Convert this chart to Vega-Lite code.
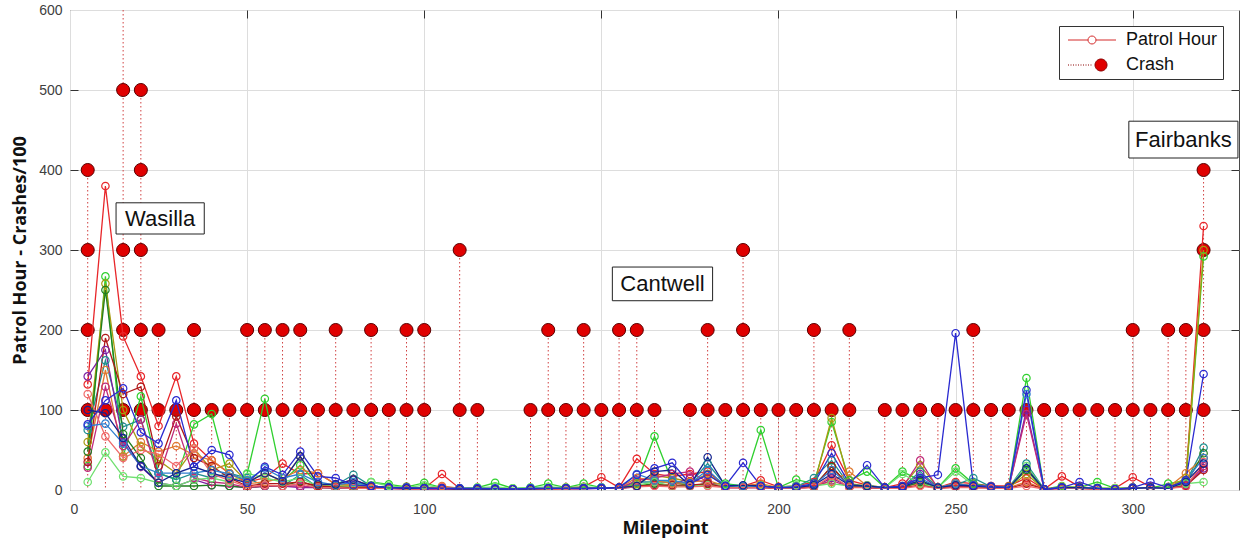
{
  "$schema": "https://vega.github.io/schema/vega-lite/v6.json",
  "width": 1169,
  "height": 480,
  "autosize": {"type": "none"},
  "padding": {"left": 70, "top": 10, "right": 4, "bottom": 52},
  "background": "white",
  "config": {
    "view": {"stroke": "#4a4a4a", "strokeWidth": 1},
    "axis": {
      "labelFont": "Liberation Sans",
      "labelFontSize": 14,
      "labelColor": "#404040",
      "titleFont": "Open Sans",
      "titleFontWeight": "bold",
      "titleFontSize": 18,
      "titleColor": "#111111",
      "gridColor": "#dddddd",
      "gridWidth": 1,
      "domain": false,
      "tickColor": "#333333",
      "tickSize": 8,
      "tickWidth": 1
    },
    "legend": {
      "orient": "top-right",
      "offset": 16,
      "padding": 5,
      "strokeColor": "#333333",
      "fillColor": "white",
      "labelFont": "Liberation Sans",
      "labelFontSize": 18,
      "labelColor": "#111111",
      "symbolSize": 100,
      "symbolStrokeWidth": 1,
      "rowPadding": 7,
      "labelOffset": 44
    }
  },
  "datasets": {
    "patrol": [
      {"m":5,"a":132,"b":30,"c":82,"d":60,"e":75,"f":142,"g":40,"h":48,"i":100,"j":28,"k":10,"l":80,"m2":35,"n":120},
      {"m":10,"a":380,"b":267,"c":112,"d":258,"e":162,"f":175,"g":150,"h":250,"i":96,"j":129,"k":47,"l":83,"m2":190,"n":67},
      {"m":15,"a":192,"b":42,"c":127,"d":100,"e":79,"f":60,"g":42,"h":70,"i":65,"j":55,"k":17,"l":58,"m2":120,"n":40},
      {"m":20,"a":142,"b":117,"c":72,"d":54,"e":88,"f":29,"g":60,"h":40,"i":30,"j":88,"k":15,"l":30,"m2":129,"n":50},
      {"m":25,"a":80,"b":21,"c":58,"d":37,"e":21,"f":9,"g":48,"h":5,"i":9,"j":15,"k":9,"l":21,"m2":30,"n":45},
      {"m":30,"a":142,"b":13,"c":112,"d":21,"e":13,"f":5,"g":55,"h":5,"i":21,"j":83,"k":5,"l":21,"m2":92,"n":30},
      {"m":35,"a":58,"b":82,"c":29,"d":52,"e":21,"f":13,"g":44,"h":5,"i":29,"j":15,"k":13,"l":21,"m2":40,"n":52},
      {"m":40,"a":37,"b":95,"c":50,"d":25,"e":15,"f":6,"g":37,"h":6,"i":21,"j":10,"k":15,"l":25,"m2":30,"n":20},
      {"m":45,"a":21,"b":10,"c":44,"d":33,"e":21,"f":5,"g":21,"h":5,"i":15,"j":8,"k":10,"l":20,"m2":15,"n":12},
      {"m":50,"a":10,"b":20,"c":9,"d":10,"e":15,"f":3,"g":8,"h":3,"i":9,"j":3,"k":21,"l":12,"m2":5,"n":4},
      {"m":55,"a":15,"b":114,"c":29,"d":21,"e":5,"f":5,"g":10,"h":5,"i":21,"j":5,"k":15,"l":27,"m2":8,"n":6},
      {"m":60,"a":33,"b":11,"c":19,"d":11,"e":5,"f":5,"g":15,"h":5,"i":11,"j":5,"k":10,"l":15,"m2":8,"n":5},
      {"m":65,"a":20,"b":31,"c":48,"d":42,"e":19,"f":3,"g":25,"h":11,"i":42,"j":5,"k":15,"l":20,"m2":10,"n":8},
      {"m":70,"a":21,"b":7,"c":17,"d":7,"e":3,"f":3,"g":21,"h":3,"i":7,"j":3,"k":5,"l":10,"m2":5,"n":3},
      {"m":75,"a":7,"b":7,"c":15,"d":5,"e":6,"f":2,"g":7,"h":3,"i":7,"j":3,"k":5,"l":6,"m2":4,"n":3},
      {"m":80,"a":13,"b":6,"c":6,"d":5,"e":19,"f":2,"g":6,"h":3,"i":13,"j":3,"k":4,"l":10,"m2":3,"n":2},
      {"m":85,"a":5,"b":10,"c":5,"d":4,"e":5,"f":2,"g":4,"h":3,"i":5,"j":2,"k":10,"l":5,"m2":3,"n":2},
      {"m":90,"a":3,"b":7,"c":3,"d":3,"e":3,"f":2,"g":3,"h":2,"i":3,"j":2,"k":5,"l":3,"m2":2,"n":2},
      {"m":95,"a":4,"b":4,"c":3,"d":3,"e":3,"f":1,"g":3,"h":2,"i":2,"j":1,"k":3,"l":3,"m2":2,"n":1},
      {"m":100,"a":2,"b":9,"c":2,"d":2,"e":2,"f":1,"g":2,"h":2,"i":2,"j":1,"k":6,"l":2,"m2":2,"n":1},
      {"m":105,"a":20,"b":3,"c":2,"d":3,"e":2,"f":1,"g":5,"h":2,"i":2,"j":1,"k":3,"l":2,"m2":3,"n":4},
      {"m":110,"a":2,"b":2,"c":2,"d":1,"e":2,"f":1,"g":2,"h":1,"i":1,"j":1,"k":2,"l":2,"m2":1,"n":1},
      {"m":115,"a":2,"b":3,"c":2,"d":1,"e":2,"f":1,"g":2,"h":1,"i":1,"j":1,"k":3,"l":2,"m2":1,"n":1},
      {"m":120,"a":1,"b":9,"c":2,"d":1,"e":1,"f":1,"g":1,"h":1,"i":1,"j":1,"k":4,"l":1,"m2":1,"n":1},
      {"m":125,"a":1,"b":2,"c":1,"d":1,"e":1,"f":1,"g":1,"h":1,"i":1,"j":1,"k":2,"l":1,"m2":1,"n":1},
      {"m":130,"a":2,"b":3,"c":2,"d":1,"e":2,"f":1,"g":2,"h":1,"i":1,"j":1,"k":3,"l":2,"m2":1,"n":1},
      {"m":135,"a":2,"b":8,"c":2,"d":2,"e":2,"f":1,"g":2,"h":1,"i":2,"j":1,"k":4,"l":2,"m2":1,"n":1},
      {"m":140,"a":3,"b":3,"c":2,"d":2,"e":2,"f":1,"g":2,"h":2,"i":2,"j":2,"k":3,"l":2,"m2":2,"n":1},
      {"m":145,"a":4,"b":8,"c":2,"d":2,"e":2,"f":1,"g":3,"h":2,"i":2,"j":2,"k":4,"l":2,"m2":2,"n":2},
      {"m":150,"a":16,"b":3,"c":2,"d":2,"e":3,"f":2,"g":3,"h":2,"i":2,"j":2,"k":3,"l":3,"m2":2,"n":2},
      {"m":155,"a":3,"b":2,"c":3,"d":2,"e":3,"f":2,"g":3,"h":2,"i":3,"j":2,"k":2,"l":3,"m2":2,"n":2},
      {"m":160,"a":39,"b":8,"c":19,"d":8,"e":10,"f":4,"g":15,"h":5,"i":5,"j":12,"k":6,"l":20,"m2":5,"n":4},
      {"m":165,"a":20,"b":67,"c":27,"d":18,"e":10,"f":6,"g":12,"h":8,"i":23,"j":15,"k":10,"l":12,"m2":6,"n":5},
      {"m":170,"a":17,"b":10,"c":34,"d":15,"e":10,"f":6,"g":8,"h":5,"i":25,"j":20,"k":5,"l":12,"m2":6,"n":4},
      {"m":175,"a":20,"b":5,"c":8,"d":10,"e":8,"f":15,"g":10,"h":5,"i":6,"j":23,"k":5,"l":8,"m2":6,"n":4},
      {"m":180,"a":23,"b":8,"c":19,"d":20,"e":33,"f":8,"g":12,"h":8,"i":41,"j":10,"k":6,"l":25,"m2":8,"n":5},
      {"m":185,"a":5,"b":8,"c":5,"d":5,"e":6,"f":3,"g":5,"h":4,"i":5,"j":3,"k":6,"l":5,"m2":3,"n":3},
      {"m":190,"a":5,"b":5,"c":34,"d":5,"e":5,"f":3,"g":5,"h":4,"i":6,"j":3,"k":4,"l":5,"m2":3,"n":3},
      {"m":195,"a":12,"b":75,"c":5,"d":6,"e":5,"f":3,"g":8,"h":4,"i":5,"j":4,"k":6,"l":5,"m2":3,"n":3},
      {"m":200,"a":4,"b":3,"c":3,"d":3,"e":3,"f":2,"g":3,"h":2,"i":3,"j":2,"k":3,"l":3,"m2":2,"n":2},
      {"m":205,"a":5,"b":13,"c":4,"d":4,"e":4,"f":2,"g":4,"h":3,"i":3,"j":2,"k":6,"l":4,"m2":3,"n":2},
      {"m":210,"a":10,"b":8,"c":8,"d":6,"e":15,"f":4,"g":6,"h":5,"i":6,"j":4,"k":5,"l":6,"m2":4,"n":3},
      {"m":215,"a":56,"b":85,"c":46,"d":90,"e":37,"f":15,"g":10,"h":29,"i":20,"j":12,"k":8,"l":25,"m2":30,"n":18},
      {"m":220,"a":12,"b":12,"c":8,"d":8,"e":6,"f":4,"g":23,"h":5,"i":6,"j":4,"k":5,"l":6,"m2":4,"n":3},
      {"m":225,"a":6,"b":23,"c":31,"d":5,"e":5,"f":3,"g":5,"h":4,"i":5,"j":3,"k":6,"l":5,"m2":3,"n":3},
      {"m":230,"a":3,"b":3,"c":3,"d":3,"e":3,"f":2,"g":3,"h":2,"i":3,"j":2,"k":3,"l":3,"m2":2,"n":2},
      {"m":235,"a":8,"b":23,"c":5,"d":5,"e":4,"f":3,"g":5,"h":3,"i":4,"j":3,"k":20,"l":4,"m2":3,"n":2},
      {"m":240,"a":10,"b":12,"c":15,"d":31,"e":23,"f":20,"g":8,"h":10,"i":12,"j":37,"k":8,"l":15,"m2":6,"n":5},
      {"m":245,"a":3,"b":3,"c":19,"d":3,"e":3,"f":2,"g":3,"h":2,"i":3,"j":2,"k":3,"l":3,"m2":2,"n":2},
      {"m":250,"a":10,"b":27,"c":196,"d":8,"e":6,"f":5,"g":8,"h":5,"i":6,"j":5,"k":23,"l":8,"m2":4,"n":3},
      {"m":255,"a":8,"b":8,"c":6,"d":5,"e":15,"f":4,"g":5,"h":4,"i":5,"j":3,"k":6,"l":5,"m2":3,"n":3},
      {"m":260,"a":5,"b":4,"c":4,"d":4,"e":4,"f":5,"g":4,"h":3,"i":4,"j":3,"k":4,"l":4,"m2":3,"n":2},
      {"m":265,"a":5,"b":4,"c":3,"d":3,"e":3,"f":3,"g":3,"h":3,"i":3,"j":3,"k":3,"l":3,"m2":2,"n":2},
      {"m":270,"a":15,"b":140,"c":125,"d":20,"e":33,"f":100,"g":10,"h":25,"i":27,"j":95,"k":30,"l":120,"m2":8,"n":5},
      {"m":275,"a":1,"b":1,"c":1,"d":1,"e":1,"f":1,"g":1,"h":1,"i":1,"j":1,"k":1,"l":1,"m2":1,"n":1},
      {"m":280,"a":17,"b":5,"c":3,"d":4,"e":3,"f":2,"g":4,"h":3,"i":3,"j":2,"k":4,"l":3,"m2":2,"n":2},
      {"m":285,"a":4,"b":3,"c":10,"d":3,"e":3,"f":2,"g":3,"h":2,"i":3,"j":2,"k":3,"l":3,"m2":2,"n":2},
      {"m":290,"a":2,"b":10,"c":2,"d":2,"e":2,"f":2,"g":2,"h":2,"i":2,"j":1,"k":3,"l":2,"m2":1,"n":1},
      {"m":295,"a":2,"b":2,"c":1,"d":2,"e":1,"f":1,"g":1,"h":1,"i":1,"j":1,"k":2,"l":1,"m2":1,"n":1},
      {"m":300,"a":16,"b":3,"c":3,"d":3,"e":2,"f":2,"g":3,"h":2,"i":2,"j":2,"k":3,"l":2,"m2":2,"n":2},
      {"m":305,"a":4,"b":2,"c":10,"d":3,"e":3,"f":2,"g":3,"h":2,"i":3,"j":2,"k":2,"l":3,"m2":2,"n":2},
      {"m":310,"a":3,"b":8,"c":3,"d":3,"e":3,"f":2,"g":3,"h":2,"i":2,"j":2,"k":3,"l":2,"m2":2,"n":2},
      {"m":315,"a":12,"b":12,"c":12,"d":15,"e":10,"f":6,"g":21,"h":8,"i":10,"j":6,"k":8,"l":12,"m2":5,"n":4},
      {"m":320,"a":330,"b":292,"c":145,"d":300,"e":53,"f":27,"g":40,"h":46,"i":33,"j":30,"k":10,"l":40,"m2":25,"n":35}
    ],
    "crash": [
      {"m":5,"c":100},{"m":5,"c":200},{"m":5,"c":300},{"m":5,"c":400},
      {"m":10,"c":100},
      {"m":15,"c":100},{"m":15,"c":200},{"m":15,"c":300},{"m":15,"c":500},{"m":15,"c":700},
      {"m":20,"c":100},{"m":20,"c":200},{"m":20,"c":300},{"m":20,"c":400},{"m":20,"c":500},
      {"m":25,"c":100},{"m":25,"c":200},
      {"m":30,"c":100},
      {"m":35,"c":100},{"m":35,"c":200},
      {"m":40,"c":100},
      {"m":45,"c":100},
      {"m":50,"c":100},{"m":50,"c":200},
      {"m":55,"c":100},{"m":55,"c":200},
      {"m":60,"c":100},{"m":60,"c":200},
      {"m":65,"c":100},{"m":65,"c":200},
      {"m":70,"c":100},
      {"m":75,"c":100},{"m":75,"c":200},
      {"m":80,"c":100},
      {"m":85,"c":100},{"m":85,"c":200},
      {"m":90,"c":100},
      {"m":95,"c":100},{"m":95,"c":200},
      {"m":100,"c":100},{"m":100,"c":200},
      {"m":110,"c":100},{"m":110,"c":300},
      {"m":115,"c":100},
      {"m":130,"c":100},
      {"m":135,"c":100},{"m":135,"c":200},
      {"m":140,"c":100},
      {"m":145,"c":100},{"m":145,"c":200},
      {"m":150,"c":100},
      {"m":155,"c":100},{"m":155,"c":200},
      {"m":160,"c":100},{"m":160,"c":200},
      {"m":165,"c":100},
      {"m":175,"c":100},
      {"m":180,"c":100},{"m":180,"c":200},
      {"m":185,"c":100},
      {"m":190,"c":100},{"m":190,"c":200},{"m":190,"c":300},
      {"m":195,"c":100},
      {"m":200,"c":100},
      {"m":205,"c":100},
      {"m":210,"c":100},{"m":210,"c":200},
      {"m":215,"c":100},
      {"m":220,"c":100},{"m":220,"c":200},
      {"m":230,"c":100},
      {"m":235,"c":100},
      {"m":240,"c":100},
      {"m":245,"c":100},
      {"m":250,"c":100},
      {"m":255,"c":100},{"m":255,"c":200},
      {"m":260,"c":100},
      {"m":265,"c":100},
      {"m":270,"c":100},
      {"m":275,"c":100},
      {"m":280,"c":100},
      {"m":285,"c":100},
      {"m":290,"c":100},
      {"m":295,"c":100},
      {"m":300,"c":100},{"m":300,"c":200},
      {"m":305,"c":100},
      {"m":310,"c":100},{"m":310,"c":200},
      {"m":315,"c":100},{"m":315,"c":200},
      {"m":320,"c":100},{"m":320,"c":200},{"m":320,"c":300},{"m":320,"c":400}
    ],
    "legendrows": [
      {"kind":"Patrol Hour","m":-100,"v":-100},
      {"kind":"Crash","m":-100,"v":-100}
    ],
    "notes": [
      {"label":"Wasilla","x1":13.0,"x2":37.9,"y1":320,"y2":359,"xm":25.45,"ym":339},
      {"label":"Cantwell","x1":153.1,"x2":181.4,"y1":236.6,"y2":278.7,"xm":167.25,"ym":257.6},
      {"label":"Fairbanks","x1":298.9,"x2":329.7,"y1":415,"y2":461,"xm":314.3,"ym":438}
    ]
  },
  "layer": [
    {
      "data": {"name": "crash"},
      "transform": [{"aggregate": [{"op": "max", "field": "c", "as": "top"}], "groupby": ["m"]}],
      "mark": {"type": "rule", "color": "#d04040", "strokeDash": [1.5, 2.5], "strokeWidth": 1, "clip": true},
      "encoding": {
        "x": {"field": "m", "type": "quantitative", "scale": {"domain": [0, 330], "nice": false, "zero": false},
          "axis": {"orient": "bottom", "values": [0, 50, 100, 150, 200, 250, 300], "grid": true, "ticks": false, "labelPadding": 12, "title": "Milepoint", "titlePadding": 3, "titleX": 595, "labelExpr": "datum.value == 150 ? '' : datum.label"}},
        "y": {"field": "top", "type": "quantitative", "scale": {"domain": [0, 600], "nice": false},
          "axis": {"orient": "left", "values": [0, 100, 200, 300, 400, 500, 600], "grid": true, "ticks": false, "labelPadding": 8, "title": "Patrol Hour - Crashes/100", "titlePadding": 9}},
        "y2": {"datum": 0}
      }
    },
    {
      "data": {"name": "crash"},
      "mark": {"type": "point", "shape": "circle", "filled": true, "fill": "#e00000", "stroke": "#5a0000", "strokeWidth": 1, "size": 170, "opacity": 1, "clip": true},
      "encoding": {
        "x": {"field": "m", "type": "quantitative", "scale": {"domain": [0, 330], "nice": false, "zero": false}, "axis": null},
        "y": {"field": "c", "type": "quantitative", "scale": {"domain": [0, 600], "nice": false}, "axis": null}
      }
    },
    {
      "data": {"name": "patrol"},
      "transform": [{"fold": ["a", "b", "d", "e", "f", "g", "h", "j", "k", "m2", "n", "l", "i", "c"], "as": ["s", "v"]}],
      "mark": {"type": "line", "strokeWidth": 1.3, "clip": true, "point": {"filled": false, "size": 55, "strokeWidth": 1.2}},
      "encoding": {
        "x": {"field": "m", "type": "quantitative", "scale": {"domain": [0, 330], "nice": false, "zero": false}, "axis": null},
        "y": {"field": "v", "type": "quantitative", "scale": {"domain": [0, 600], "nice": false}, "axis": null},
        "color": {"field": "s", "type": "nominal", "legend": null,
          "scale": {"domain": ["a", "b", "d", "e", "f", "g", "h", "j", "k", "m2", "n", "l", "i", "c"],
            "range": ["#e8262a", "#30d030", "#a89a10", "#1f8f8f", "#7b1fa2", "#e07a30", "#1f7f1f", "#c02a7a", "#70e070", "#b01818", "#f06a6a", "#2f7fd0", "#13238f", "#2a2ad0"]}},
        "order": {"field": "m", "type": "quantitative"}
      }
    },
    {
      "data": {"name": "legendrows"},
      "mark": {"type": "point", "clip": true, "opacity": 1},
      "encoding": {
        "x": {"field": "m", "type": "quantitative", "scale": {"domain": [0, 330], "nice": false, "zero": false},
          "axis": {"orient": "top", "offset": -8, "values": [50, 100, 150, 200, 250, 300], "labels": false, "grid": false, "ticks": true, "title": null}},
        "y": {"field": "v", "type": "quantitative", "scale": {"domain": [0, 600], "nice": false},
          "axis": {"orient": "right", "offset": -8, "values": [100, 200, 300, 400, 500], "labels": false, "grid": false, "ticks": true, "title": null}},
        "shape": {"field": "kind", "type": "nominal",
          "scale": {"domain": ["Patrol Hour", "Crash"],
            "range": ["M-1,0H3M4.6,0H8.6M3,0A0.8,0.8,0,1,1,4.6,0A0.8,0.8,0,1,1,3,0Z",
                      "M-1,0h0.2M-0.5,0h0.2M0,0h0.2M0.5,0h0.2M1,0h0.2M1.5,0h0.2M2,0h0.2M2.5,0h0.2M3,0h0.2M3.5,0h0.2M4.4,0A1.2,1.2,0,1,1,6.8,0A1.2,1.2,0,1,1,4.4,0Z"]},
          "legend": {"title": null}},
        "fill": {"field": "kind", "type": "nominal", "scale": {"domain": ["Patrol Hour", "Crash"], "range": ["transparent", "#e00000"]}, "legend": {"title": null}},
        "stroke": {"field": "kind", "type": "nominal", "scale": {"domain": ["Patrol Hour", "Crash"], "range": ["#d42a2a", "#8a0000"]}, "legend": {"title": null}}
      }
    },
    {
      "data": {"name": "notes"},
      "mark": {"type": "rect", "fill": "white", "stroke": "#222222", "strokeWidth": 1},
      "encoding": {
        "x": {"field": "x1", "type": "quantitative", "scale": {"domain": [0, 330], "nice": false, "zero": false},
          "axis": {"orient": "bottom", "offset": -8, "values": [50, 100, 150, 200, 250, 300], "labels": false, "grid": false, "ticks": true, "title": null}},
        "x2": {"field": "x2"},
        "y": {"field": "y1", "type": "quantitative", "scale": {"domain": [0, 600], "nice": false},
          "axis": {"orient": "left", "offset": -8, "values": [100, 200, 300, 400, 500], "labels": false, "grid": false, "ticks": true, "title": null}},
        "y2": {"field": "y2"}
      }
    },
    {
      "data": {"name": "notes"},
      "mark": {"type": "text", "font": "Liberation Sans", "fontSize": 22, "color": "#111111", "align": "center", "baseline": "middle"},
      "encoding": {
        "x": {"field": "xm", "type": "quantitative", "scale": {"domain": [0, 330], "nice": false, "zero": false}, "axis": null},
        "y": {"field": "ym", "type": "quantitative", "scale": {"domain": [0, 600], "nice": false}, "axis": null},
        "text": {"field": "label"}
      }
    }
  ],
  "resolve": {"axis": {"x": "independent", "y": "independent"}}
}
